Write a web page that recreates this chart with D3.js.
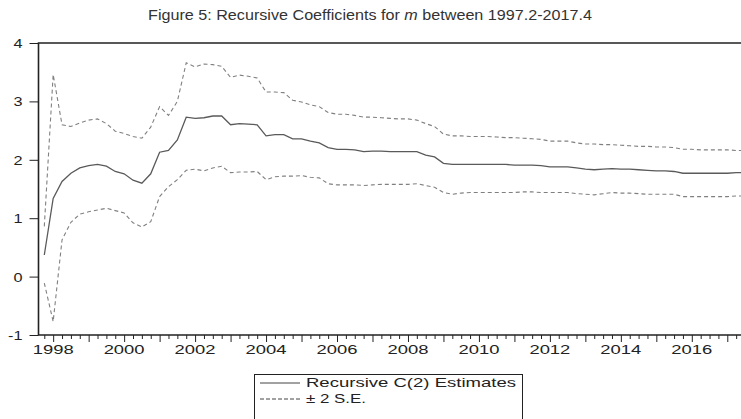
<!DOCTYPE html>
<html>
<head>
<meta charset="utf-8">
<script src="https://cdn.jsdelivr.net/npm/d3@7"></script>
<style>
  body { margin: 0; background: #fff; }
  text { font-family: "Liberation Sans", Arial, sans-serif; fill: #222; }
</style>
</head>
<body>
<svg id="chart" width="741" height="419"></svg>
<script>
// recursive estimates, quarterly, first estimate at 1997Q4 (sample 1997Q2-2017Q4)
let startYear = 1997.75;
let estimate = [0.37,1.34,1.63,1.77,1.86,1.90,1.92,1.89,1.80,1.76,1.65,1.60,1.76,2.13,2.16,2.34,
  2.73,2.71,2.72,2.75,2.75,2.60,2.62,2.61,2.60,2.41,2.43,2.43,2.36,2.36,2.32,2.29,
  2.21,2.18,2.18,2.17,2.14,2.15,2.15,2.14,2.14,2.14,2.14,2.08,2.05,1.94,1.92,1.92,
  1.92,1.92,1.92,1.92,1.92,1.91,1.91,1.91,1.90,1.88,1.88,1.88,1.86,1.84,1.83,1.84,
  1.85,1.84,1.84,1.83,1.82,1.81,1.81,1.80,1.77,1.77,1.77,1.77,1.77,1.77,1.78,1.78,1.78];
let upper = [0.86,3.46,2.60,2.57,2.63,2.68,2.70,2.62,2.49,2.45,2.40,2.37,2.56,2.91,2.76,3.00,
  3.66,3.59,3.64,3.63,3.60,3.41,3.45,3.43,3.40,3.16,3.16,3.15,3.02,2.99,2.94,2.91,
  2.81,2.78,2.78,2.76,2.73,2.73,2.72,2.71,2.70,2.70,2.68,2.62,2.57,2.44,2.41,2.41,
  2.40,2.40,2.40,2.39,2.38,2.38,2.37,2.36,2.35,2.32,2.32,2.32,2.29,2.27,2.27,2.26,
  2.26,2.25,2.24,2.23,2.23,2.22,2.22,2.21,2.18,2.18,2.17,2.17,2.17,2.17,2.16,2.16,2.16];
let lower = [-0.11,-0.77,0.63,0.93,1.07,1.11,1.14,1.17,1.13,1.09,0.92,0.85,0.94,1.37,1.54,1.66,
  1.82,1.84,1.81,1.86,1.89,1.78,1.79,1.79,1.80,1.66,1.71,1.72,1.72,1.73,1.70,1.69,
  1.59,1.57,1.57,1.57,1.56,1.57,1.58,1.58,1.58,1.58,1.59,1.56,1.53,1.44,1.41,1.43,
  1.44,1.44,1.44,1.44,1.44,1.44,1.45,1.45,1.44,1.44,1.44,1.44,1.42,1.41,1.40,1.42,
  1.44,1.43,1.43,1.42,1.41,1.41,1.41,1.41,1.37,1.37,1.37,1.37,1.37,1.37,1.38,1.38,1.38];
let yTicks = [-1, 0, 1, 2, 3, 4];
let yearLabels = [1998, 2000, 2002, 2004, 2006, 2008, 2010, 2012, 2014, 2016];
let legendLabels = ['Recursive C(2) Estimates', '\u00b1 2 S.E.'];

let svg = d3.select('#chart');
let mLeft = 38.5, mTop = 43, mBottom = 335, mRight = 760;

let t = i => startYear + i / 4;
let x = d3.scaleLinear().domain([1997.75, 2017.75]).range([44.3, 753.9]);
let y = d3.scaleLinear().domain([-1, 4]).range([mBottom, mTop]);

// stretch text horizontally (the original graph is scaled wide)
let stretch = (sel, w) => sel.each(function () {
    let n = d3.select(this);
    let len = this.getComputedTextLength();
    let ax = +n.attr('x'), ay = +n.attr('y');
    let k = w > 0 ? w / len : -w;
    n.attr('transform', `translate(${ax},${ay}) scale(${k},1) translate(${-ax},${-ay})`);
});

// title
svg.append('text')
    .attr('x', 370).attr('y', 20)
    .attr('text-anchor', 'middle')
    .style('font-size', '14px').style('fill', '#333')
    .call(s => {
        s.append('tspan').text('Figure 5: Recursive Coefficients for ');
        s.append('tspan').style('font-style', 'italic').text('m');
        s.append('tspan').text(' between 1997.2-2017.4');
    })
    .call(stretch, 444);

// y axis
let yAxis = svg.append('g')
    .attr('transform', `translate(${mLeft},0)`)
    .call(d3.axisLeft(y).tickValues(yTicks).tickSize(9).tickFormat(d => String(d)));
yAxis.select('.domain').remove();
yAxis.selectAll('line').attr('stroke', '#222').attr('stroke-width', 1);
yAxis.selectAll('text')
    .attr('x', -16).attr('y', 0).attr('dy', '0.35em')
    .style('font-size', '13px').style('font-family', 'Liberation Sans')
    .attr('fill', '#222')
    .call(stretch, -1.25);

// x axis: quarter ticks, longer year ticks, labels every two years
let quarterTicks = estimate.map((d, i) => t(i));
let xAxis = svg.append('g')
    .attr('transform', `translate(0,${mBottom})`)
    .call(d3.axisBottom(x).tickValues(quarterTicks).tickSize(4).tickFormat(''));
xAxis.select('.domain').remove();
xAxis.selectAll('line').attr('stroke', '#222');
xAxis.selectAll('.tick')
    .filter(d => Number.isInteger(d))
    .select('line').attr('y2', 7);

svg.append('g').selectAll('text')
    .data(yearLabels)
    .enter().append('text')
    .attr('x', d => x(d))
    .attr('y', mBottom + 19)
    .attr('text-anchor', 'middle')
    .style('font-size', '13px')
    .text(d => d)
    .call(stretch, 41);

// frame
svg.append('path')
    .attr('d', `M${mRight},${mTop}H${mLeft}V${mBottom}H${mRight}`)
    .attr('fill', 'none').attr('stroke', '#222').attr('stroke-width', 1.6);

// series
let line = d3.line().x((d, i) => x(t(i))).y(d => y(d));
svg.append('path').datum(upper)
    .attr('d', line).attr('fill', 'none')
    .attr('stroke', '#808080').attr('stroke-width', 1.1).attr('stroke-dasharray', '4,3');
svg.append('path').datum(lower)
    .attr('d', line).attr('fill', 'none')
    .attr('stroke', '#808080').attr('stroke-width', 1.1).attr('stroke-dasharray', '4,3');
svg.append('path').datum(estimate)
    .attr('d', line).attr('fill', 'none')
    .attr('stroke', '#5a5a5a').attr('stroke-width', 1.3);

// legend
let lg = svg.append('g');
lg.append('rect')
    .attr('x', 254.5).attr('y', 374.5).attr('width', 268).attr('height', 60)
    .attr('fill', '#fff').attr('stroke', '#222').attr('stroke-width', 1);
legendLabels.forEach((lab, i) => {
    let ly = 387 + i * 16;
    lg.append('line')
        .attr('x1', 260).attr('x2', 300).attr('y1', ly - 4).attr('y2', ly - 4)
        .attr('stroke', '#444').attr('stroke-width', 1)
        .attr('stroke-dasharray', i ? '4,2' : null);
    lg.append('text')
        .attr('x', 306).attr('y', ly)
        .style('font-size', '13px')
        .text(lab)
        .call(stretch, i ? 60 : 210);
});
</script>
</body>
</html>
